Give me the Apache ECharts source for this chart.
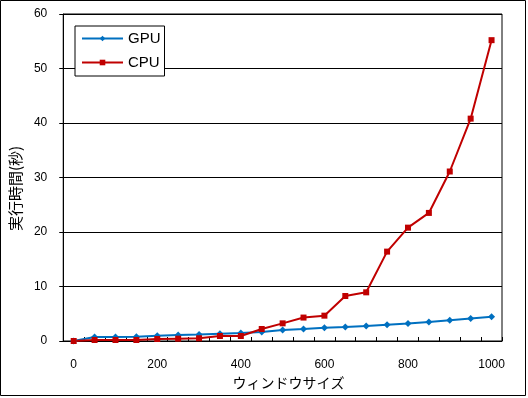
<!DOCTYPE html>
<html><head><meta charset="utf-8">
<script src="https://cdn.jsdelivr.net/npm/echarts@6/dist/echarts.min.js"></script>
<style>html,body{margin:0;padding:0;background:#fff}#c{width:528px;height:398px}</style>
</head><body><div id="c"></div>
<script>
const categories = ['0','50','100','150','200','250','300','350','400','450','500','550','600','650','700','750','800','850','900','950','1000'];
const gpuValues = [0, 0.73, 0.73, 0.8, 0.97, 1.1, 1.2, 1.35, 1.47, 1.65, 2.0, 2.2, 2.45, 2.57, 2.75, 3.0, 3.2, 3.5, 3.8, 4.15, 4.45];
const cpuValues = [0, 0.18, 0.18, 0.18, 0.37, 0.43, 0.5, 0.92, 0.92, 2.2, 3.24, 4.3, 4.65, 8.26, 8.93, 16.4, 20.8, 23.5, 31.1, 40.8, 55.2];
const seriesNames = ['GPU', 'CPU'];
const xTitle = 'ウィンドウサイズ';
const yTitle = '実行時間(秒)';

const chart = echarts.init(document.getElementById('c'), null, {renderer: 'canvas'});
chart.setOption({
  animation: false,
  backgroundColor: '#fff',
  textStyle: {fontFamily: 'Liberation Sans, Arial, sans-serif'},
  graphic: [{
    type: 'rect', shape: {x: 0.5, y: 0.5, width: 525, height: 395},
    style: {fill: null, stroke: '#000', lineWidth: 1}, z: -1
  }],
  grid: {left: 62, top: 14, width: 440, height: 327, show: true, borderColor: '#000', borderWidth: 1, containLabel: false},
  legend: {
    left: 75, top: 26, orient: 'vertical',
    backgroundColor: '#fff', borderColor: '#000', borderWidth: 1,
    padding: [5, 4, 6, 6], itemWidth: 41, itemHeight: 7, itemGap: 9,
    textStyle: {fontSize: 15, color: '#000', fontFamily: 'Liberation Sans, Arial, sans-serif'},
    data: seriesNames
  },
  xAxis: {
    type: 'category', data: categories, boundaryGap: true,
    name: xTitle, nameLocation: 'middle', nameGap: 31,
    nameTextStyle: {fontSize: 14, color: '#000', fontFamily: 'Noto Sans CJK JP', padding: [0, 0, 0, 12]},
    axisLine: {lineStyle: {color: '#000', width: 1}},
    axisTick: {show: true, inside: true, length: 4, interval: 0, alignWithLabel: false, lineStyle: {color: '#000'}},
    axisLabel: {interval: 3, margin: 18, fontSize: 12, color: '#000'},
    splitLine: {show: false}
  },
  yAxis: {
    type: 'value', min: 0, max: 60, interval: 10,
    name: yTitle, nameLocation: 'middle', nameGap: 36,
    nameTextStyle: {fontSize: 15, color: '#000', fontFamily: 'Noto Sans CJK JP', padding: [0, 22, 0, 0]},
    axisLine: {show: true, lineStyle: {color: '#000', width: 1}},
    axisTick: {show: true, inside: false, length: 4, lineStyle: {color: '#000'}},
    axisLabel: {margin: 16, fontSize: 12, color: '#000'},
    splitLine: {show: true, lineStyle: {color: '#000', width: 1}}
  },
  series: [
    {name: seriesNames[0], type: 'line', data: gpuValues, color: '#0070C0',
     symbol: 'diamond', symbolSize: 7, lineStyle: {width: 2, color: '#0070C0'},
     itemStyle: {color: '#0070C0'}},
    {name: seriesNames[1], type: 'line', data: cpuValues, color: '#C00000',
     symbol: 'rect', symbolSize: 6, lineStyle: {width: 2, color: '#C00000'},
     itemStyle: {color: '#C00000'}}
  ]
});
</script></body></html>
